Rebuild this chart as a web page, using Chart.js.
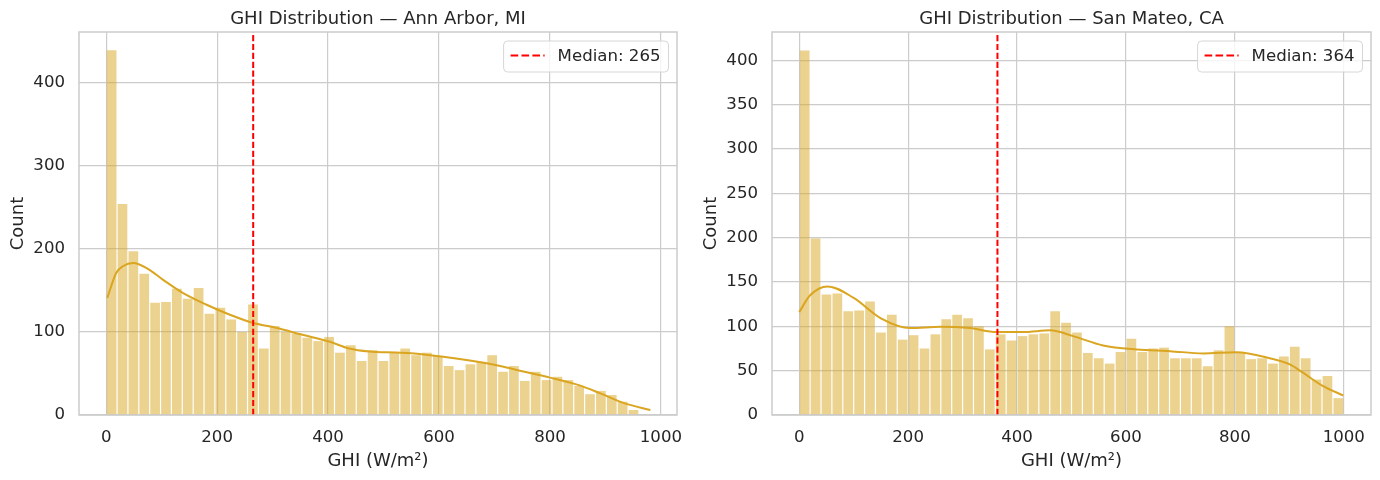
<!DOCTYPE html>
<html><head><meta charset="utf-8">
<script src="https://cdn.jsdelivr.net/npm/chart.js@4.4.1/dist/chart.umd.min.js"></script>
<style>
html,body{margin:0;padding:0;background:#fff;}
#wrap{display:flex;width:1380px;height:480px;}
.cell{position:relative;width:690px;height:480px;}
canvas{display:block;}
</style></head><body>
<div id="wrap"><div class="cell"><canvas id="c1" width="690" height="480"></canvas></div><div class="cell"><canvas id="c2" width="690" height="480"></canvas></div></div>
<script>
// ---------------- DATA ----------------
const annArborTitle = 'GHI Distribution — Ann Arbor, MI';
const annArborBinStart = 0;
const annArborBinWidth = 19.6;
const annArborCounts = [439,254,197,170,135,136,152,140,153,122,129,115,100,133,80,107,100,98,93,89,94,75,84,65,78,65,75,80,72,75,71,59,54,61,64,72,52,59,41,52,42,46,42,35,25,29,24,16,6,1];
const annArborKdeX = [2,18,30,49,75,102,138,180,222,264,306,354,402,438,474,522,550,604,688,710,748,800,852,891,935,981];
const annArborKdeY = [141,171,179,183,176,163,147,133,121,111,105,96.5,88.4,80,76.4,75.2,74.4,70.4,62,59,53,45,36,26,14,6];
const annArborMedian = 265;
const annArborYTicks = [0,100,200,300,400];

const sanMateoTitle = 'GHI Distribution — San Mateo, CA';
const sanMateoBinStart = 0;
const sanMateoBinWidth = 20;
const sanMateoCounts = [411,199,136,137,117,118,128,93,113,85,90,75,91,108,113,109,100,74,91,84,89,91,92,117,104,93,70,64,58,71,86,71,75,76,64,64,64,55,73,100,70,63,64,58,66,77,64,40,44,19];
const sanMateoKdeX = [0,20,52,100,150,204,259,314,362,411,461,503,558,620,681,742,803,864,901,925,962,999];
const sanMateoKdeY = [116,135,145,132,109,98,99.6,98,93.6,93.6,95.5,89,78.5,74,72,69.5,70.7,64,57,47.7,32.6,22];
const sanMateoMedian = 364;
const sanMateoYTicks = [0,50,100,150,200,250,300,350,400];

const xTicks = [0,200,400,600,800,1000];
const xLabel = 'GHI (W/m²)';
const yLabel = 'Count';

// ---------------- STYLE ----------------
const FONT = '"DejaVu Sans", "Liberation Sans", sans-serif';
const TXT = '#262626';
const GRID = '#cccccc';
const BAR = 'rgba(218,165,32,0.5)';
const KDE = '#DAA520';
const TICK_SIZE = 16.6;
const LABEL_SIZE = 18;

const decor = {
  id: 'decor',
  afterDatasetsDraw(chart, args, o) {
    const {ctx, chartArea: a} = chart;
    ctx.save();
    ctx.strokeStyle = GRID; ctx.lineWidth = 1.5; ctx.setLineDash([]);
    ctx.strokeRect(a.left, a.top, a.right - a.left, a.bottom - a.top);
    // legend
    ctx.font = TICK_SIZE + 'px ' + FONT;
    const tw = ctx.measureText(o.legendText).width;
    const bw = 7 + 34 + 13 + tw + 8, bh = 31;
    const bx = a.right - 8.5 - bw, by = a.top + 9;
    ctx.beginPath();
    ctx.roundRect(bx, by, bw, bh, 4);
    ctx.fillStyle = 'rgba(255,255,255,0.8)';
    ctx.fill();
    ctx.strokeStyle = '#d6d6d6'; ctx.lineWidth = 1;
    ctx.stroke();
    ctx.beginPath();
    ctx.setLineDash([7.6, 3.3]);
    ctx.strokeStyle = '#ff0000'; ctx.lineWidth = 2;
    ctx.moveTo(bx + 7, by + bh / 2 - 1); ctx.lineTo(bx + 41, by + bh / 2 - 1);
    ctx.stroke();
    ctx.setLineDash([]);
    ctx.fillStyle = TXT; ctx.textBaseline = 'middle'; ctx.textAlign = 'left';
    ctx.fillText(o.legendText, bx + 54, by + bh / 2);
    // title
    ctx.font = LABEL_SIZE + 'px ' + FONT;
    ctx.textAlign = 'center'; ctx.textBaseline = 'alphabetic';
    ctx.fillText(o.title, (a.left + a.right) / 2, 24);
    ctx.restore();
  }
};

function zeroPad(ax) { ax.paddingLeft = 0; ax.paddingRight = 0; ax.paddingTop = 0; ax.paddingBottom = 0; }

function makeChart(id, cfg) {
  const centers = cfg.counts.map((c, i) => cfg.binStart + (i + 0.5) * cfg.binWidth);
  const bars = cfg.counts.map((c, i) => ({x: centers[i], y: c}));
  const kde = cfg.kdeX.map((x, i) => ({x: x, y: cfg.kdeY[i]}));
  const med = [{x: cfg.median, y: 0}, {x: cfg.median, y: cfg.yMax}];
  return new Chart(document.getElementById(id), {
    type: 'bar',
    data: {
      datasets: [
        {type: 'line', label: 'Median: ' + cfg.median, data: med, borderColor: '#ff0000', borderWidth: 2,
         borderDash: [6.2, 2.7], pointRadius: 0, fill: false, order: 0},
        {type: 'line', label: 'KDE', data: kde, borderColor: KDE, borderWidth: 2, pointRadius: 0,
         cubicInterpolationMode: 'monotone', fill: false, order: 1},
        {type: 'bar', label: 'Count', data: bars, backgroundColor: BAR, borderWidth: 0,
         barPercentage: 0.89, categoryPercentage: 1, order: 2}
      ]
    },
    options: {
      responsive: false, animation: false, devicePixelRatio: 1,
      layout: {padding: {left: 0, right: cfg.padRight, top: 32, bottom: 0}},
      plugins: {legend: {display: false}, tooltip: {enabled: false}, title: {display: false},
        decor: {legendText: 'Median: ' + cfg.median, title: cfg.title}},
      scales: {
        x: {
          type: 'linear', min: cfg.xMin, max: cfg.xMax, offset: false,
          afterBuildTicks: ax => { ax.ticks = xTicks.map(v => ({value: v})); },
          afterFit: ax => { ax.height = 65; zeroPad(ax); },
          grid: {color: GRID, lineWidth: 1.2, drawTicks: false, offset: false},
          border: {display: false},
          ticks: {color: TXT, font: {family: FONT, size: TICK_SIZE}, padding: 13, maxRotation: 0, autoSkip: false,
                  callback: v => String(v)},
          title: {display: true, text: xLabel, color: TXT, font: {family: FONT, size: LABEL_SIZE}, padding: {top: 0, bottom: 8}}
        },
        y: {
          type: 'linear', min: 0, max: cfg.yMax,
          afterBuildTicks: ax => { ax.ticks = cfg.yTicks.map(v => ({value: v})); },
          afterFit: ax => { ax.width = cfg.yWidth; zeroPad(ax); },
          grid: {color: GRID, lineWidth: 1.2, drawTicks: false},
          border: {display: false},
          ticks: {color: TXT, font: {family: FONT, size: TICK_SIZE}, padding: 14, callback: v => String(v)},
          title: {display: true, text: yLabel, color: TXT, font: {family: FONT, size: LABEL_SIZE}, padding: {top: cfg.yTitlePad, bottom: 0}}
        }
      }
    },
    plugins: [decor]
  });
}

makeChart('c1', {title: annArborTitle, counts: annArborCounts, binStart: annArborBinStart, binWidth: annArborBinWidth,
  kdeX: annArborKdeX, kdeY: annArborKdeY, median: annArborMedian, yTicks: annArborYTicks,
  xMin: -49, xMax: 1029, yMax: 461, yWidth: 79, padRight: 13, yTitlePad: 7.5});
makeChart('c2', {title: sanMateoTitle, counts: sanMateoCounts, binStart: sanMateoBinStart, binWidth: sanMateoBinWidth,
  kdeX: sanMateoKdeX, kdeY: sanMateoKdeY, median: sanMateoMedian, yTicks: sanMateoYTicks,
  xMin: -50, xMax: 1050, yMax: 432, yWidth: 82, padRight: 9, yTitlePad: 11});
</script>
</body></html>
